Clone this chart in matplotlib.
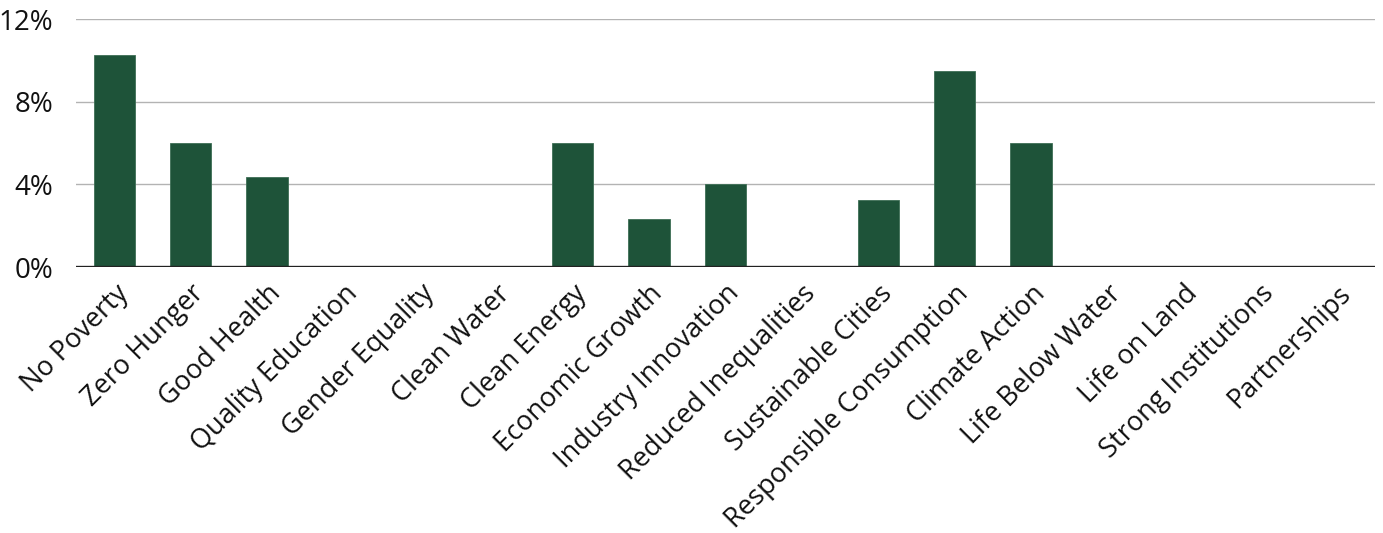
import matplotlib.pyplot as plt
from matplotlib.ticker import FuncFormatter

plt.rcParams['font.family'] = ['Open Sans', 'DejaVu Sans']

goals = ["No Poverty", "Zero Hunger", "Good Health", "Quality Education",
         "Gender Equality", "Clean Water", "Clean Energy", "Economic Growth",
         "Industry Innovation", "Reduced Inequalities", "Sustainable Cities",
         "Responsible Consumption", "Climate Action", "Life Below Water",
         "Life on Land", "Strong Institutions", "Partnerships"]
share = [10.25, 6.0, 4.35, 0, 0, 0, 6.0, 2.32, 4.02, 0, 3.24, 9.48, 6.0, 0, 0, 0, 0]

fig = plt.figure(figsize=(13.83, 5.33), dpi=100)
ax = fig.add_axes([0.055, 0.499, 0.939, 0.465])

x = range(len(goals))
ax.bar(x, share, width=0.54, color='#1e5339', edgecolor='#3d6e55', linewidth=0.6, zorder=3)

ax.set_xlim(-0.5, len(goals) - 0.5)
ax.set_ylim(0, 12)
ax.set_yticks([0, 4, 8, 12])
ax.yaxis.set_major_formatter(FuncFormatter(lambda v, _: f"{v:.0f}%"))
ax.grid(axis='y', color='#b3b3b3', linewidth=1.0, zorder=0)
ax.axhline(0, color='#222222', linewidth=2.4, zorder=4)

for s in ax.spines.values():
    s.set_visible(False)
ax.tick_params(axis='both', length=0, colors='#111111')
ax.tick_params(axis='y', pad=16.5, labelsize=20)
ax.set_xticks(list(x))
ax.set_xticklabels(goals, rotation=45, ha='right', rotation_mode='anchor', fontsize=19.5)
ax.tick_params(axis='x', pad=9)

plt.savefig('out.png', dpi=100)
